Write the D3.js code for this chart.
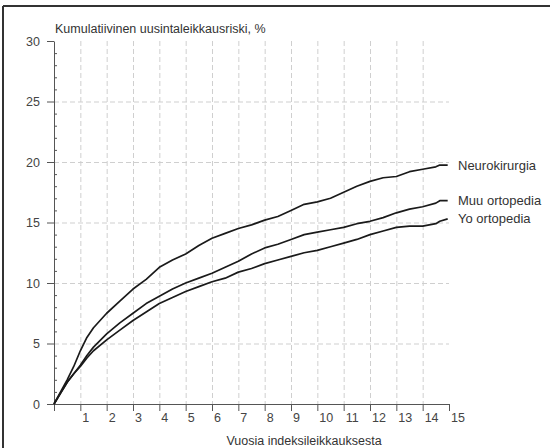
<!DOCTYPE html>
<html>
<head>
<meta charset="utf-8">
<script src="https://cdn.jsdelivr.net/npm/d3@7"></script>
<style>
  body { margin: 0; background: #fff; }
  svg { display: block; font-family: "Liberation Sans", Arial, sans-serif; }
</style>
</head>
<body>
<div id="chart"></div>
<script>
// years since index operation
var years = [0, 0.25, 0.5, 0.75, 1, 1.25, 1.5, 2, 2.5, 3, 3.5, 4, 4.5, 5, 5.5, 6, 6.5, 7, 7.5,
  8, 8.5, 9, 9.5, 10, 10.5, 11, 11.5, 12, 12.5, 13, 13.5, 14, 14.5, 14.65, 14.95]

var neuro = [0, 1.0, 2.0, 3.1, 4.4, 5.5, 6.3, 7.5, 8.5, 9.5, 10.3, 11.3, 11.9, 12.4, 13.1, 13.7, 14.1, 14.5, 14.8,
  15.2, 15.5, 16.0, 16.5, 16.7, 17.0, 17.5, 18.0, 18.4, 18.7, 18.8, 19.2, 19.4, 19.6, 19.75, 19.75]
var muu = [0, 0.9, 1.8, 2.5, 3.2, 4.0, 4.7, 5.8, 6.7, 7.5, 8.3, 8.9, 9.5, 10.0, 10.4, 10.8, 11.3, 11.8, 12.4,
  12.9, 13.2, 13.6, 14.0, 14.2, 14.4, 14.6, 14.9, 15.1, 15.4, 15.8, 16.1, 16.3, 16.6, 16.8, 16.8]
var yo = [0, 0.9, 1.8, 2.5, 3.1, 3.8, 4.4, 5.3, 6.1, 6.9, 7.6, 8.3, 8.8, 9.3, 9.7, 10.1, 10.4, 10.9, 11.2,
  11.6, 11.9, 12.2, 12.5, 12.7, 13.0, 13.3, 13.6, 14.0, 14.3, 14.6, 14.7, 14.7, 14.9, 15.1, 15.3]

var seriesNames = ["Neurokirurgia", "Muu ortopedia", "Yo ortopedia"]
var seriesValues = [neuro, muu, yo]

var xTicks = [0, 1, 2, 3, 4, 5, 6, 7, 8, 9, 10, 11, 12, 13, 14, 15]
var yTicks = [0, 5, 10, 15, 20, 25, 30]
var yMinor = d3.range(0, 31, 1)

var title = "Kumulatiivinen uusintaleikkausriski, %"
var xTitle = "Vuosia indeksileikkauksesta"

var width = 550, height = 448

var svg = d3.select("#chart").append("svg")
  .attr("width", width).attr("height", height)

var x = d3.scaleLinear().domain([0, 15]).range([54, 449])
var y = d3.scaleLinear().domain([0, 30]).range([404, 41])

// frame (left and top edges only are visible)
svg.append("line").attr("x1", 3).attr("x2", 3).attr("y1", 6).attr("y2", height)
  .attr("stroke", "#333").attr("stroke-width", 2)
svg.append("line").attr("x1", 3).attr("x2", width).attr("y1", 6).attr("y2", 6)
  .attr("stroke", "#333").attr("stroke-width", 2)

// grid
var grid = svg.append("g").attr("class", "grid")
  .attr("stroke", "#cfcfcf").attr("stroke-width", 1).attr("stroke-dasharray", "5,3")
grid.selectAll(".vg")
  .data(xTicks.filter(function (d) { return d > 0 && d < 15 }))
  .enter().append("line")
    .attr("x1", function (d) { return x(d) + 0.5 })
    .attr("x2", function (d) { return x(d) + 0.5 })
    .attr("y1", y(30)).attr("y2", y(0))
grid.selectAll(".hg")
  .data(yTicks.filter(function (d) { return d > 0 && d < 30 }))
  .enter().append("line")
    .attr("y1", function (d) { return y(d) + 0.5 })
    .attr("y2", function (d) { return y(d) + 0.5 })
    .attr("x1", x(0)).attr("x2", x(15))

// axes
var xAxis = svg.append("g")
  .attr("transform", "translate(0," + y(0) + ")")
  .call(d3.axisBottom(x).tickValues(xTicks).tickSize(7).tickPadding(2).tickSizeOuter(0)
    .tickFormat(function (d) { return d === 0 ? "" : d }))
xAxis.selectAll("text").attr("text-anchor", "start").attr("x", 1.5)

var yAxis = svg.append("g")
  .attr("transform", "translate(" + x(0) + ",0)")
  .call(d3.axisLeft(y).tickValues(yTicks).tickSize(7).tickPadding(7).tickSizeOuter(0))

svg.append("g")
  .selectAll("line")
  .data(yMinor.filter(function (d) { return d % 5 !== 0 }))
  .enter().append("line")
    .attr("x1", x(0)).attr("x2", x(0) + 3)
    .attr("y1", function (d) { return y(d) + 0.5 })
    .attr("y2", function (d) { return y(d) + 0.5 })
    .attr("stroke", "#555")

svg.selectAll(".domain, .tick line").attr("stroke", "#555")
svg.selectAll(".tick text").attr("font-size", 12.5).attr("fill", "#444")
  .attr("font-family", "Liberation Sans, Arial, sans-serif")

// curves
var line = d3.line()
  .x(function (d) { return x(d[0]) })
  .y(function (d) { return y(d[1]) })

seriesValues.forEach(function (vals, i) {
  var pts = years.map(function (t, j) { return [t, vals[j]] })
  svg.append("path")
    .datum(pts)
    .attr("d", line)
    .attr("fill", "none")
    .attr("stroke", "#1a1a1a")
    .attr("stroke-width", 1.7)
    .attr("stroke-linejoin", "round")
  svg.append("text")
    .attr("x", x(15) + 9)
    .attr("y", y(vals[vals.length - 1]))
    .attr("dy", "0.35em")
    .attr("font-size", 13)
    .attr("fill", "#333")
    .text(seriesNames[i])
})

// titles
svg.append("text")
  .attr("x", 55).attr("y", 33)
  .attr("font-size", 12.5).attr("fill", "#333")
  .text(title)
svg.append("text")
  .attr("x", 304).attr("y", 445)
  .attr("text-anchor", "middle")
  .attr("font-size", 12.5).attr("fill", "#333")
  .text(xTitle)
</script>
</body>
</html>
